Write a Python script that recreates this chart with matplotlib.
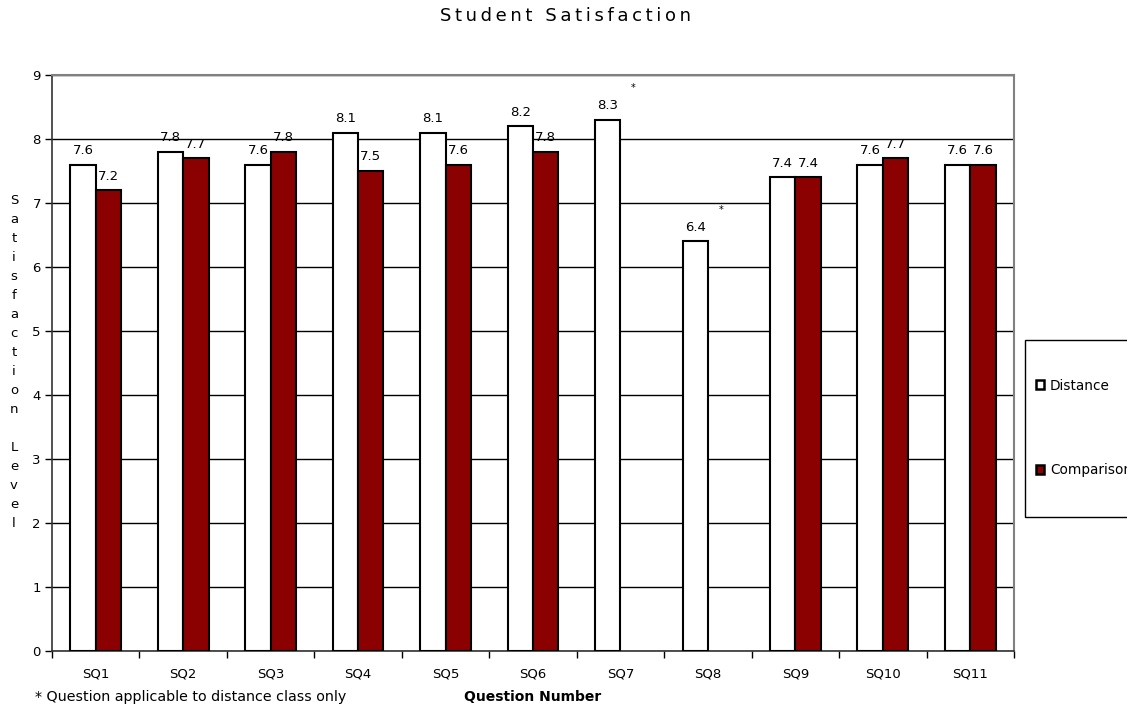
import numpy as np
import matplotlib.pyplot as plt
from matplotlib.patches import Patch, Rectangle

# survey results per question
questions = ["SQ1", "SQ2", "SQ3", "SQ4", "SQ5", "SQ6", "SQ7", "SQ8", "SQ9", "SQ10", "SQ11"]
distance = [7.6, 7.8, 7.6, 8.1, 8.1, 8.2, 8.3, 6.4, 7.4, 7.6, 7.6]
comparison = [7.2, 7.7, 7.8, 7.5, 7.6, 7.8, None, None, 7.4, 7.7, 7.6]

RED = "#8b0000"
FS = 9.5

fig = plt.figure(figsize=(11.27, 7.11), dpi=100)
ax = fig.add_axes([52 / 1127, 60 / 711, 962 / 1127, 576 / 711])

x = np.arange(len(questions))
w = 0.29
off = 0.145

ax.bar(x - off, distance, w, color="white", edgecolor="black", linewidth=1.5, zorder=3)
comp_x = [xi + off for xi, v in zip(x, comparison) if v is not None]
comp_v = [v for v in comparison if v is not None]
ax.bar(comp_x, comp_v, w, color=RED, edgecolor="black", linewidth=1.5, zorder=3)

# value labels
for xi, v in zip(x, distance):
    ax.text(xi - off, v + 0.12, f"{v:.1f}", ha="center", va="bottom", fontsize=FS)
for xi, v in zip(comp_x, comp_v):
    ax.text(xi, v + 0.12, f"{v:.1f}", ha="center", va="bottom", fontsize=FS)

# questions asked of the distance class only
for xi, v in zip(x, comparison):
    if v is None:
        ax.text(xi + 0.15, distance[xi] + 0.42, "*", ha="center", va="bottom", fontsize=7)

ax.set_xlim(-0.5, len(questions) - 0.5)
ax.set_ylim(0, 9)
ax.set_yticks(range(0, 10))
ax.yaxis.grid(True, color="black", linewidth=1, zorder=0)
ax.set_axisbelow(True)

ax.set_xticks(x)
ax.set_xticklabels(questions, fontsize=FS)
ax.set_xticks(np.arange(-0.5, len(questions)), minor=True)
ax.tick_params(axis="x", which="major", length=0, pad=12)
ax.tick_params(axis="x", which="minor", length=5, width=1, direction="out")
ax.tick_params(axis="y", length=5, width=1, labelsize=FS, pad=3)

for side in ["top", "right"]:
    ax.spines[side].set_color("#808080")
    ax.spines[side].set_linewidth(1.5)
for side in ["left", "bottom"]:
    ax.spines[side].set_color("#333333")
    ax.spines[side].set_linewidth(1.2)

# spaced-out title
title = "\u2009".join("Student Satisfaction")
fig.text(565 / 1127, 1 - 16 / 711, title, ha="center", va="center", fontsize=13)
fig.text(533 / 1127, 1 - 697 / 711, "Question Number", ha="center", va="center",
         fontsize=10, fontweight="bold")
fig.text(35 / 1127, 1 - 697 / 711, "* Question applicable to distance class only",
         ha="left", va="center", fontsize=10.3)

# stacked vertical axis title
fig.text(14 / 1127, 1 - 362 / 711, "\n".join("Satisfaction Level"), ha="center",
         va="center", fontsize=FS, linespacing=1.6)

# legend
handles = [Patch(facecolor="white", edgecolor="black", linewidth=1.8, label="Distance"),
           Patch(facecolor=RED, edgecolor="black", linewidth=1.8, label="Comparison")]
fig.legend(handles=handles, loc="center left", bbox_to_anchor=(1029 / 1127, 1 - 428 / 711),
           frameon=False, fontsize=9.8, handlelength=0.6, handleheight=0.6,
           handletextpad=0.45, labelspacing=5.2, borderpad=0)
fig.add_artist(Rectangle((1025 / 1127, 1 - 517 / 711), 0.2, 177 / 711,
                         transform=fig.transFigure, facecolor="none",
                         edgecolor="black", linewidth=1))

fig.savefig("out.png", dpi=100)
